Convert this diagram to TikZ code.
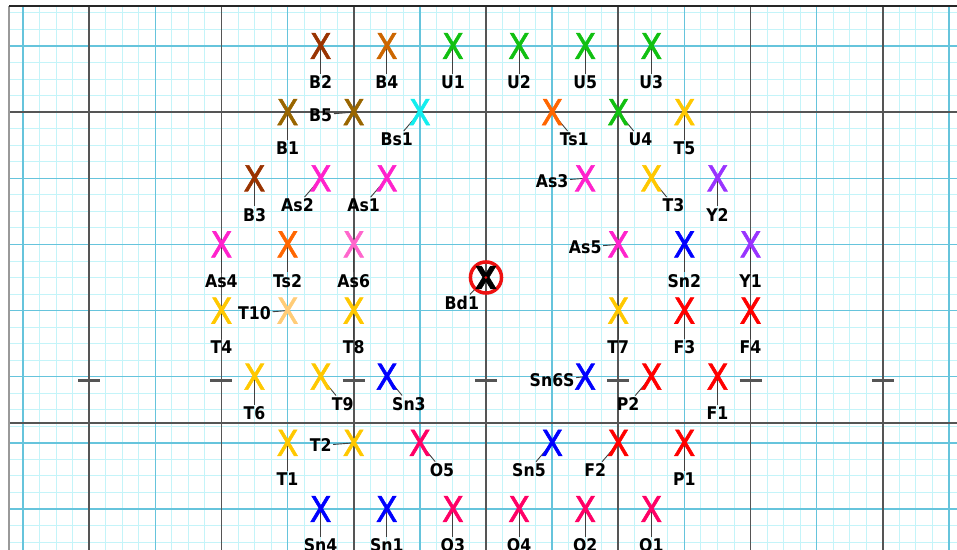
\documentclass[tikz,border=0pt]{standalone}
\usepackage{fontspec}
\setmainfont{DejaVu Sans Condensed}
\newfontfamily\markfont{DejaVu Sans Condensed}[FakeBold=1.6]
\pgfdeclarelayer{back}
\pgfdeclarelayer{lead}
\pgfsetlayers{back,lead,main}

\definecolor{finecyan}{RGB}{196,244,249}
\definecolor{gridblue}{RGB}{102,196,220}
\definecolor{griddark}{RGB}{85,85,85}
\definecolor{brownB}{RGB}{153,51,0}
\definecolor{orangeB}{RGB}{204,102,0}
\definecolor{oliveB}{RGB}{153,102,0}
\definecolor{greenU}{RGB}{17,192,17}
\definecolor{cyanBs}{RGB}{17,238,238}
\definecolor{orangeTs}{RGB}{255,102,0}
\definecolor{goldT}{RGB}{255,200,0}
\definecolor{paleT}{RGB}{255,204,119}
\definecolor{magAs}{RGB}{255,34,204}
\definecolor{pinkAs}{RGB}{255,102,204}
\definecolor{violetY}{RGB}{153,51,255}
\definecolor{blueSn}{RGB}{0,0,255}
\definecolor{redF}{RGB}{255,0,0}
\definecolor{roseO}{RGB}{255,0,102}
\definecolor{bdred}{RGB}{238,17,17}

\begin{document}
\begin{tikzpicture}[x=33.07pt,y=-66.14pt,
  mk/.style={inner sep=0pt,font=\markfont\fontsize{35.5}{36}\selectfont},
  lab/.style={inner sep=1.5pt,font=\fontsize{17.5}{18}\selectfont\bfseries},
  leader/.style={draw=black!75,line width=0.9pt}]
\useasboundingbox (-0.6955,-0.6955) rectangle (28.243,7.62);

\begin{pgfonlayer}{back}
\foreach \x in {0,0.5,...,28}{
    \draw[finecyan,line width=0.9pt] (\x,-0.605)--(\x,7.62);
}
\foreach \y in {-0.5,-0.25,...,7.5}{
    \draw[finecyan,line width=0.9pt] (-0.423,\y)--(28.243,\y);
}
\foreach \x in {0,4,...,28}{
    \draw[gridblue,line width=1.5pt] (\x,-0.605)--(\x,7.62);
}
\foreach \y in {0,...,7}{
    \draw[gridblue,line width=1.5pt] (-0.423,\y)--(28.243,\y);
}
\foreach \x in {2,6,...,26}{
    \draw[griddark,line width=1.6pt] (\x,-0.605)--(\x,7.62);
    \draw[griddark,line width=3pt] ({\x-0.333},5.06)--({\x+0.333},5.06);
}
\foreach \y in {1,5.7}{
    \draw[griddark,line width=1.6pt] (-0.423,\y)--(28.243,\y);
}
\draw[griddark!60,line width=1.5pt] (-0.423,7.62)--(-0.423,-0.605);
\draw[black!85,line width=1.5pt] (-0.423,-0.605)--(28.243,-0.605);
\end{pgfonlayer}

\foreach \n/\col/\x/\y/\dx/\dy in {
    B2/brownB/9/0/0/0.55, B4/orangeB/11/0/0/0.55, U1/greenU/13/0/0/0.55,
    U2/greenU/15/0/0/0.55, U5/greenU/17/0/0/0.55, U3/greenU/19/0/0/0.55,
    B1/oliveB/8/1/0/0.55, B5/oliveB/10/1/-1/0.04, Bs1/cyanBs/12/1/-0.7/0.41,
    Ts1/orangeTs/16/1/0.67/0.41, U4/greenU/18/1/0.67/0.41, T5/goldT/20/1/0/0.55,
    B3/brownB/7/2/0/0.55, As2/magAs/9/2/-0.7/0.41, As1/magAs/11/2/-0.7/0.41,
    As3/magAs/17/2/-1/0.04, T3/goldT/19/2/0.67/0.41, Y2/violetY/21/2/0/0.55,
    As4/magAs/6/3/0/0.55, Ts2/orangeTs/8/3/0/0.55, As6/pinkAs/10/3/0/0.55,
    As5/magAs/18/3/-1/0.04, Sn2/blueSn/20/3/0/0.55, Y1/violetY/22/3/0/0.55,
    T4/goldT/6/4/0/0.55, T10/paleT/8/4/-1/0.04, T8/goldT/10/4/0/0.55,
    T7/goldT/18/4/0/0.55, F3/redF/20/4/0/0.55, F4/redF/22/4/0/0.55,
    T6/goldT/7/5/0/0.55, T9/goldT/9/5/0.67/0.41, Sn3/blueSn/11/5/0.67/0.41,
    Sn6S/blueSn/17/5/-1/0.05, P2/redF/19/5/-0.7/0.41, F1/redF/21/5/0/0.55,
    T1/goldT/8/6/0/0.55, T2/goldT/10/6/-1/0.04, O5/roseO/12/6/0.67/0.41,
    Sn5/blueSn/16/6/-0.7/0.41, F2/redF/18/6/-0.7/0.41, P1/redF/20/6/0/0.55,
    Sn4/blueSn/9/7/0/0.55, Sn1/blueSn/11/7/0/0.55, O3/roseO/13/7/0/0.55,
    O4/roseO/15/7/0/0.55, O2/roseO/17/7/0/0.55, O1/roseO/19/7/0/0.55}{
    \node[mk,text=\col] (\n) at (\x,\y) {X};
    \node[lab] (\n-l) at ({\x+(\dx)},{\y+(\dy)}) {\n};
    \begin{pgfonlayer}{lead}
        \draw[leader] (\n.center)--(\n-l);
    \end{pgfonlayer}
}

\node[mk,circle,draw=bdred,line width=3.5pt,minimum size=30.5pt,
    font=\markfont\fontsize{31}{31}\selectfont\bfseries] (Bd1) at (14,3.5) {X};
\fill[bdred] (Bd1.center) circle (1.5pt);
\node[lab] (Bd1-l) at (13.27,3.886) {Bd1};
\begin{pgfonlayer}{lead}
    \draw[leader] (Bd1.center)--(Bd1-l);
\end{pgfonlayer}
\end{tikzpicture}
\end{document}
